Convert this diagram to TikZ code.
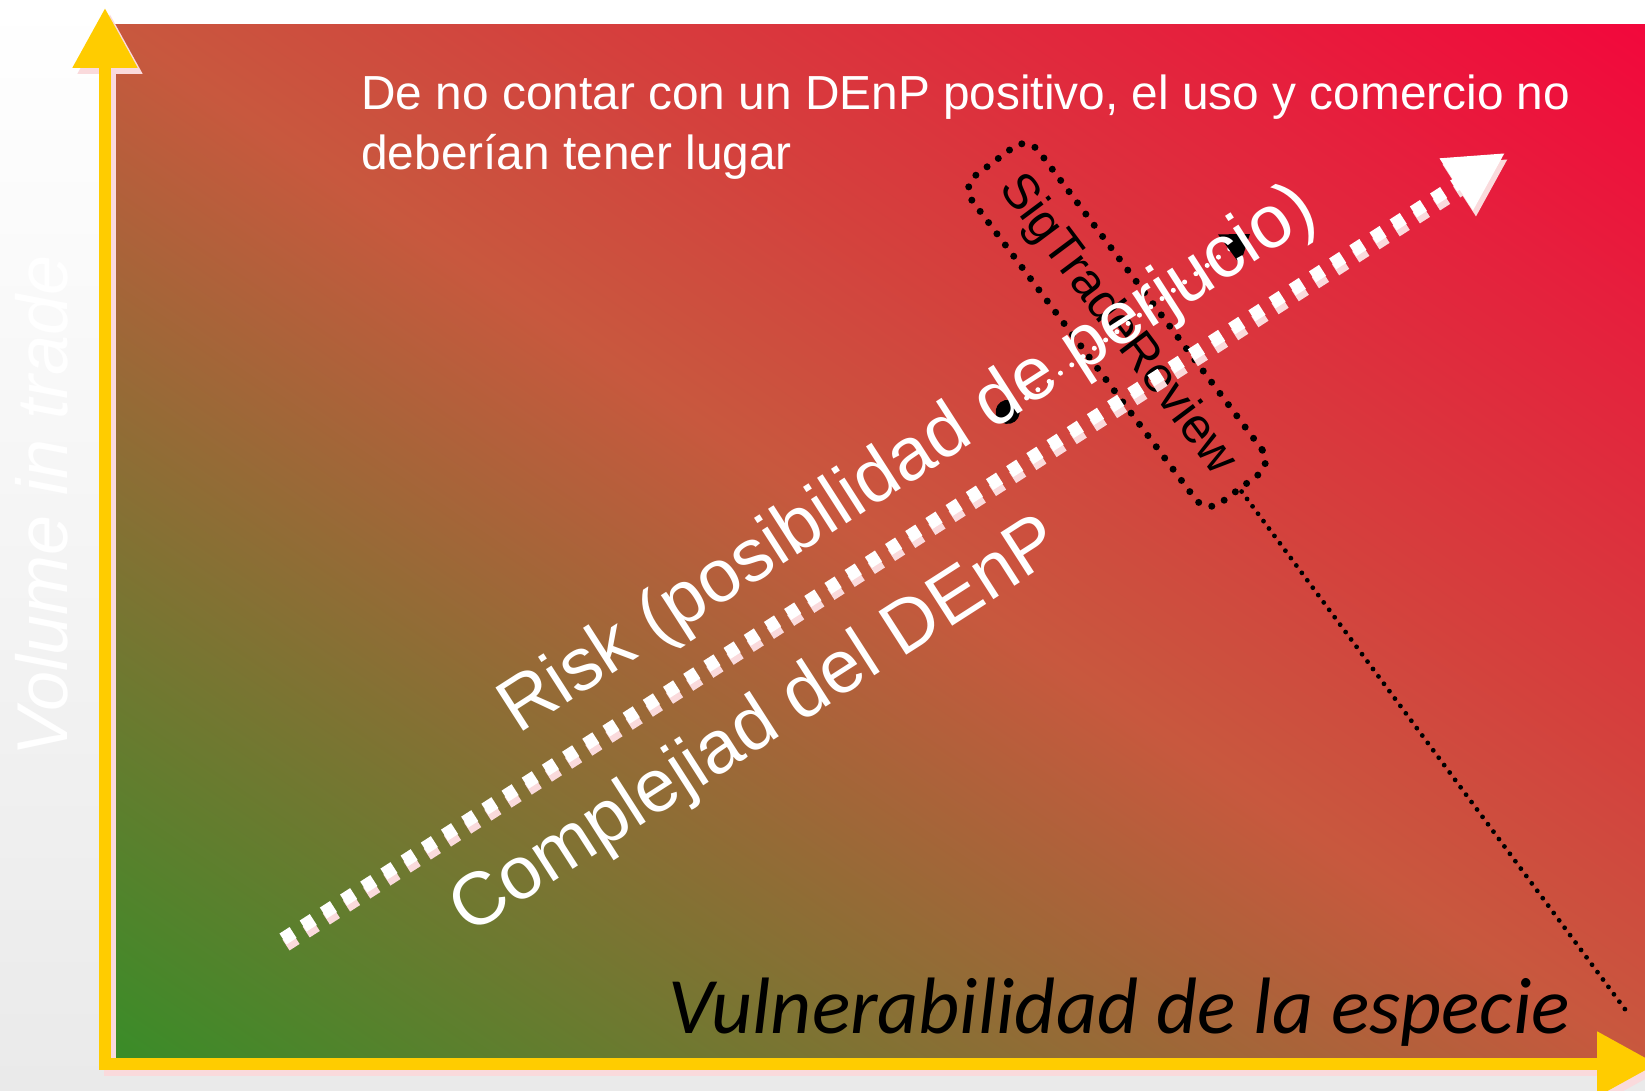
\documentclass[tikz,border=0pt]{standalone}
\usepackage{fontspec}
\setmainfont{Liberation Sans}
\newfontfamily\calibrifont{Carlito}
\usetikzlibrary{arrows.meta}

\definecolor{axisyellow}{RGB}{255,204,0}
\definecolor{shadowpink}{RGB}{250,218,220}
\definecolor{riskgreen}{RGB}{58,140,40}
\definecolor{riskmid}{RGB}{200,88,62}
\definecolor{riskred}{RGB}{242,8,60}
\definecolor{backgray}{RGB}{234,234,234}

\begin{document}
\begin{tikzpicture}[x=0.5pt,y=0.5pt,yscale=-1,
    axisline/.style={line width=6pt,line cap=rect,draw=axisyellow,-{Triangle[length=30pt,width=31pt]}},
    axisshadow/.style={axisline,draw=shadowpink},
    riskdots/.style={line width=6.5pt,draw=white,dash pattern=on 6pt off 6pt,-{Triangle[length=29pt,width=29pt]}},
    riskshadow/.style={riskdots,draw=shadowpink},
    bigwhite/.style={text=white,inner sep=0pt,font=\fontsize{37.3}{44}\selectfont},
    sigbox/.style={draw=black,line width=3.5pt,dash pattern=on 0pt off 7pt,line cap=round,rounded corners=9pt,
        font=\fontsize{24.75}{30}\selectfont,text=black,inner sep=0pt},
    trend/.style={draw=black,line width=2.4pt,dash pattern=on 0pt off 4.6pt,line cap=round}]
    \useasboundingbox (0,0) rectangle (1645,1091);
    \clip (0,0) rectangle (1645,1091);

    %Shape: Background
    \shade[top color=white,bottom color=backgray] (0,0) rectangle (1645,1091);
    %Shape: Gradient panel
    \begin{scope}
        \clip (114,25) rectangle (1645,1058);
        \shade[top color=riskred,bottom color=riskgreen,middle color=riskmid,shading angle=-34] (23.5,-314.5) rectangle (1735.5,1397.5);
    \end{scope}

    %Shape: Axes
    \coordinate (origin) at (105,1064);
    \coordinate (ytip) at (105,8);
    \coordinate (xtip) at (1657,1064);
    \draw[axisshadow] ([shift={(5,6)}]origin) -- ([shift={(5,6)}]ytip);
    \draw[axisshadow] ([shift={(5,6)}]origin) -- ([shift={(5,6)}]xtip);
    \draw[axisline] (origin) -- (ytip);
    \draw[axisline] (origin) -- (xtip);

    % Text Node
    \node[sigbox,rotate=-53.2,minimum width=204.5pt,minimum height=41.5pt] (sig) at (1117,325) {SigTradeReview};
    \coordinate (trendend) at (1630,1016);
    \draw[trend] (sig.east) -- (trendend);

    %Shape: small arrow
    \coordinate (blob) at (998,419);
    \coordinate (blobtip) at (1250,234);
    \draw[line width=2.5pt,white,dash pattern=on 0pt off 7pt,line cap=round,
        {Circle[color=black,length=12pt]}-{Triangle[color=black,length=13pt,width=18pt]}] (blob) -- (blobtip);

    %Shape: dotted risk arrow
    \coordinate (riskstart) at (283,939);
    \coordinate (risktip) at (1505,153);
    \draw[riskshadow] ([shift={(3,6)}]riskstart) -- ([shift={(3,6)}]risktip);
    \draw[riskdots] (riskstart) -- (risktip);

    % Text Node
    \node[bigwhite,rotate=32.7,anchor=base west] (risk) at (518,735) {Risk (posibilidad de perjucio)};
    % Text Node
    \node[bigwhite,rotate=32.7,anchor=base west] (complex) at (469,936) {Complejiad del DEnP};
    % Text Node
    \node[text=white,inner sep=0pt,anchor=north west,align=left,font=\fontsize{23.9}{30}\selectfont] (note) at (361,74)
        {De no contar con un DEnP positivo, el uso y comercio no\\deberían tener lugar};
    % Text Node
    \node[text=white,inner sep=0pt,rotate=90,anchor=base west,font=\fontsize{36}{43}\selectfont\itshape] (ylabel) at (68,757) {Volume in trade};
    % Text Node
    \node[text=black,inner sep=0pt,anchor=base west,font=\fontsize{40}{48}\calibrifont\itshape] (xlabel) at (668,1033) {Vulnerabilidad de la especie};
\end{tikzpicture}
\end{document}
